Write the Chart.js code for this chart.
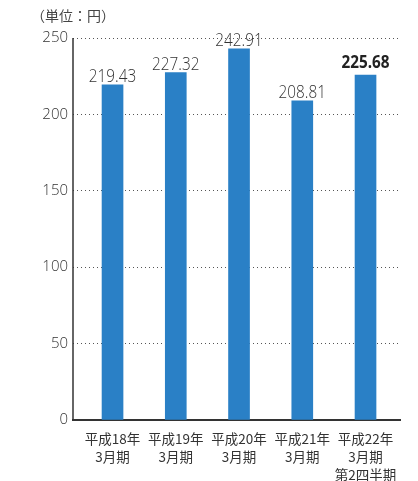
<!DOCTYPE html>
<html>
<head>
<meta charset="utf-8">
<script src="https://cdn.jsdelivr.net/npm/chart.js@4"></script>
<style>
  body { margin: 0; background: #fff; }
  #wrap { position: relative; width: 418px; height: 481px; }
  #unit { position: absolute; left: 31px; top: 5px; font: 14px "Noto Sans CJK JP", sans-serif; color: #444; }
</style>
</head>
<body>
<div id="wrap">
  <div id="unit">（単位：円）</div>
  <canvas id="chart" width="418" height="481"></canvas>
</div>
<script>
var categories = [
    ['平成18年', '3月期'],
    ['平成19年', '3月期'],
    ['平成20年', '3月期'],
    ['平成21年', '3月期'],
    ['平成22年', '3月期', '第2四半期']
];
var values = [219.43, 227.32, 242.91, 208.81, 225.68];
var yTicks = [0, 50, 100, 150, 200, 250];

var points = values.map(function (v, i) { return { x: i, y: v }; });

// value labels above bars + solid y axis line
var valueLabels = {
    id: 'valueLabels',
    afterDatasetsDraw: function (chart) {
        var ctx = chart.ctx;
        var area = chart.chartArea;
        var meta = chart.getDatasetMeta(0);
        ctx.save();
        ctx.strokeStyle = '#333';
        ctx.lineWidth = 1.5;
        ctx.beginPath();
        ctx.moveTo(area.left, area.top);
        ctx.lineTo(area.left, area.bottom);
        ctx.stroke();
        ctx.restore();

        meta.data.forEach(function (bar, i) {
            var last = i === values.length - 1;
            ctx.save();
            ctx.translate(bar.x, bar.y - (last ? 7 : 3));
            ctx.scale(0.85, 1);
            ctx.textAlign = 'center';
            ctx.textBaseline = 'alphabetic';
            ctx.fillStyle = last ? '#222' : '#333';
            ctx.font = (last ? 'bold ' : '300 ') + '18px "Open Sans", sans-serif';
            ctx.fillText(values[i].toFixed(2), 0, 0);
            ctx.restore();
        });
    }
};

var ctx = document.getElementById('chart').getContext('2d');
var chart = new Chart(ctx, {
    type: 'bar',
    data: {
        datasets: [{
            data: points,
            backgroundColor: '#2a80c6',
            barThickness: 21
        }]
    },
    options: {
        responsive: false,
        animation: false,
        layout: { padding: { top: 38, right: 18, left: 0, bottom: 0 } },
        plugins: { legend: { display: false }, tooltip: { enabled: false } },
        scales: {
            x: {
                type: 'linear',
                offset: false,
                min: -0.625,
                max: 4.545,
                afterBuildTicks: function (scale) {
                    scale.ticks = categories.map(function (c, i) { return { value: i }; });
                },
                afterFit: function (scale) {
                    scale.height = 61;
                    scale.paddingLeft = 0;
                    scale.paddingRight = 0;
                },
                ticks: {
                    autoSkip: false,
                    maxRotation: 0,
                    padding: 2,
                    color: '#333',
                    font: { size: 13.5, family: '"Noto Sans CJK JP", sans-serif', lineHeight: 1.32 },
                    callback: function (v) { return categories[v]; }
                },
                grid: { display: false },
                border: { display: true, color: '#333', width: 2 }
            },
            y: {
                min: 0,
                max: 250,
                afterBuildTicks: function (scale) {
                    scale.ticks = yTicks.map(function (v) { return { value: v }; });
                },
                afterFit: function (scale) { scale.width = 73; },
                ticks: {
                    padding: 5,
                    color: '#333',
                    font: { size: 15, family: '"Open Sans", sans-serif', weight: '300' }
                },
                grid: {
                    drawTicks: false,
                    color: function (c) { return c.tick.value === 0 ? 'rgba(0,0,0,0)' : '#555'; },
                    lineWidth: 1
                },
                border: { display: false, dash: [1, 3] }
            }
        }
    },
    plugins: [valueLabels]
});
</script>
</body>
</html>
